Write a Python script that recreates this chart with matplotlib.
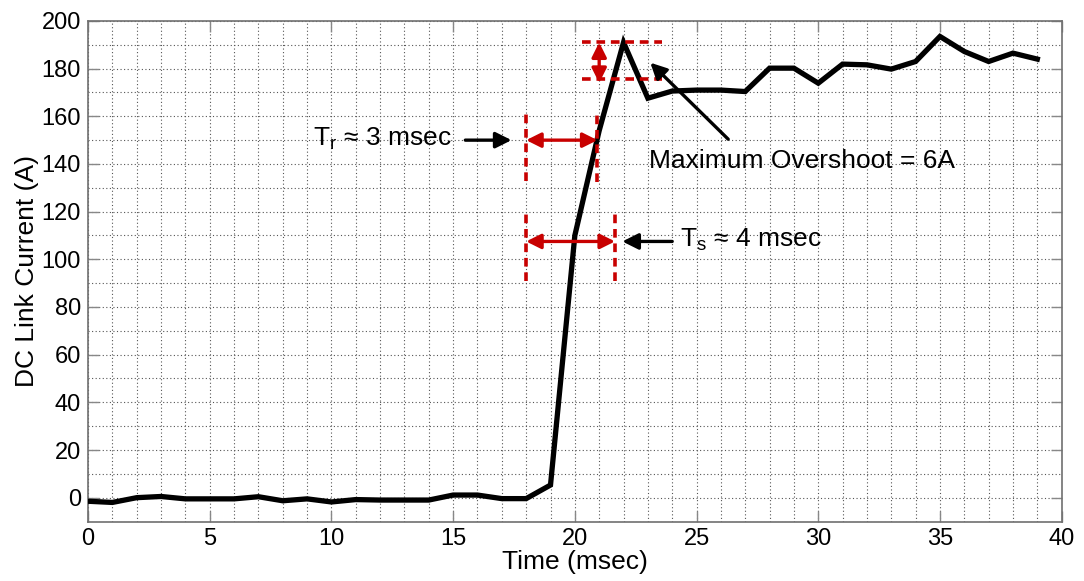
import matplotlib
matplotlib.use("Agg")
import matplotlib.pyplot as plt
from matplotlib.ticker import MultipleLocator

plt.rcParams['font.family'] = ['Liberation Sans', 'DejaVu Sans']
plt.rcParams['mathtext.fontset'] = 'custom'
plt.rcParams['mathtext.rm'] = 'Liberation Sans'
plt.rcParams['mathtext.it'] = 'Liberation Sans'

# DC link current samples, one per millisecond
time_ms = list(range(40))
current_a = [-1.5, -2.0, 0.0, 0.5, -0.5, -0.5, -0.5, 0.4, -1.3, -0.5,
             -1.8, -0.8, -1.0, -1.0, -1.0, 1.1, 1.1, -0.4, -0.4, 5.3,
             110.0, 154.0, 191.0, 167.6, 170.6, 171.0, 171.0, 170.4, 180.2, 180.2,
             173.9, 181.9, 181.6, 179.8, 183.0, 193.5, 187.2, 183.0, 186.5, 184.0]

x_ticks = [0, 5, 10, 15, 20, 25, 30, 35, 40]
y_ticks = [0, 20, 40, 60, 80, 100, 120, 140, 160, 180, 200]

# step-response markers
peak_level = 191.0
band_level = 175.5
rise_start, rise_end = 18.0, 20.93
settle_end = 21.65
rise_y, settle_y = 150.0, 107.5

RED = '#C80000'

fig = plt.figure(figsize=(10.84, 5.81), dpi=100)
ax = fig.add_axes([0.0812, 0.1024, 0.8982, 0.8615])

ax.plot(time_ms, current_a, color='black', lw=3.8, solid_joinstyle='miter', zorder=5)

ax.set_xlim(0, 40)
ax.set_ylim(-10, 200)
ax.set_xticks(x_ticks)
ax.set_yticks(y_ticks)
ax.xaxis.set_minor_locator(MultipleLocator(1))
ax.yaxis.set_minor_locator(MultipleLocator(10))
ax.grid(which='both', color='#555555', linestyle=(0, (1, 2.2)), linewidth=0.8)
ax.tick_params(which='major', direction='in', length=8, width=1.0, color='#888888',
               top=True, right=True, labelsize=17, pad=5)
ax.tick_params(which='minor', length=0)
for sp in ax.spines.values():
    sp.set_color('#707070')
    sp.set_linewidth(1.2)

ax.set_xlabel('Time (msec)', fontsize=19, labelpad=0)
ax.set_ylabel('DC Link Current (A)', fontsize=19, labelpad=2)

dash = dict(color=RED, lw=2.6, linestyle=(0, (2.4, 1.6)), zorder=6)
red_arrow = dict(arrowstyle='<|-|>', color=RED, lw=2.4, mutation_scale=22,
                 shrinkA=0, shrinkB=0)

# overshoot band
ax.plot([20.3, 23.6], [peak_level, peak_level], **dash)
ax.plot([20.3, 23.6], [band_level, band_level], **dash)
ax.annotate('', xy=(21.0, peak_level), xytext=(21.0, band_level - 1.5),
            arrowprops=red_arrow, zorder=7)

# rise time
ax.plot([rise_start, rise_start], [133, 163], **dash)
ax.plot([rise_end, rise_end], [132.5, 161.5], **dash)
ax.annotate('', xy=(rise_start, rise_y), xytext=(rise_end, rise_y),
            arrowprops=red_arrow, zorder=7)

# settling time
ax.plot([rise_start, rise_start], [91, 120], **dash)
ax.plot([settle_end, settle_end], [91, 120], **dash)
ax.annotate('', xy=(rise_start, settle_y), xytext=(settle_end, settle_y),
            arrowprops=red_arrow, zorder=7)

black_arrow = dict(arrowstyle='-|>', color='black', lw=2.4, mutation_scale=24,
                   shrinkA=0, shrinkB=0)

ax.annotate('', xy=(17.4, rise_y), xytext=(15.5, rise_y), arrowprops=black_arrow, zorder=7)
ax.text(14.95, rise_y + 0.5, 'T$_\\mathregular{r}$ ≈ 3 msec', fontsize=19,
        ha='right', va='center', zorder=8)

ax.annotate('', xy=(21.95, settle_y), xytext=(24.0, settle_y), arrowprops=black_arrow, zorder=7)
ax.text(24.3, settle_y + 0.5, 'T$_\\mathregular{s}$ ≈ 4 msec', fontsize=19,
        ha='left', va='center', zorder=8)

ax.annotate('', xy=(23.1, 182.5), xytext=(26.3, 150.4), arrowprops=black_arrow, zorder=7)
ax.text(23.04, 141.3, 'Maximum Overshoot = 6A', fontsize=19, ha='left', va='center', zorder=8)

fig.savefig('out.png', dpi=100)
